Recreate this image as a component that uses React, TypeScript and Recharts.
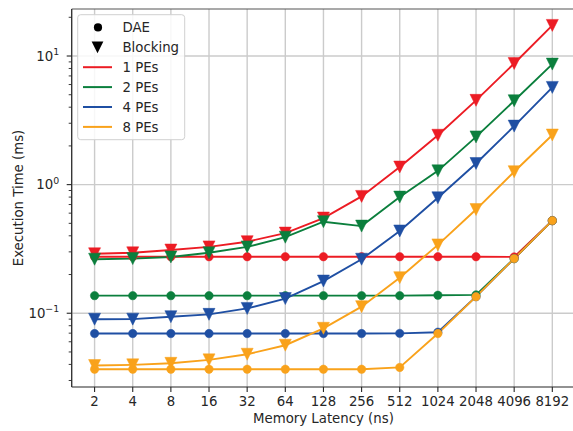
import React from 'react';
import { LineChart, Line, XAxis, YAxis, CartesianGrid, ReferenceLine } from 'recharts';

// ---------- data ----------
const latencies = [2, 4, 8, 16, 32, 64, 128, 256, 512, 1024, 2048, 4096, 8192];

const dae1 = [0.275, 0.275, 0.275, 0.275, 0.275, 0.275, 0.275, 0.275, 0.275, 0.275, 0.275, 0.274, 0.525];
const blk1 = [0.29, 0.295, 0.31, 0.328, 0.36, 0.42, 0.55, 0.81, 1.37, 2.42, 4.52, 8.75, 17.3];

const dae2 = [0.137, 0.137, 0.137, 0.137, 0.137, 0.137, 0.137, 0.137, 0.137, 0.138, 0.139, 0.266, 0.525];
const blk2 = [0.263, 0.266, 0.274, 0.295, 0.328, 0.39, 0.515, 0.476, 0.8, 1.28, 2.35, 4.49, 8.65];

const dae4 = [0.0695, 0.0695, 0.0695, 0.0695, 0.0695, 0.0695, 0.0695, 0.0695, 0.0697, 0.0712, 0.1345, 0.266, 0.525];
const blk4 = [0.0898, 0.09, 0.094, 0.098, 0.109, 0.13, 0.178, 0.263, 0.436, 0.79, 1.46, 2.85, 5.7];

const dae8 = [0.0367, 0.0367, 0.0367, 0.0367, 0.0367, 0.0367, 0.0367, 0.0367, 0.0379, 0.0695, 0.1345, 0.266, 0.525];
const blk8 = [0.0392, 0.0397, 0.0408, 0.0434, 0.048, 0.0564, 0.0764, 0.1125, 0.189, 0.34, 0.64, 1.26, 2.43];

const peLabels = ['1 PEs', '2 PEs', '4 PEs', '8 PEs'];
const markerLabels = ['DAE', 'Blocking'];

const majorTicks = [0.1, 1, 10];
const yTicks = [0.03, 0.04, 0.05, 0.06, 0.07, 0.08, 0.09, 0.1, 0.2, 0.3, 0.4, 0.5, 0.6, 0.7, 0.8, 0.9, 1, 2, 3, 4, 5, 6, 7, 8, 9, 10, 20];
const xTicks = latencies.map((l) => Math.log2(l));

// ---------- style ----------
const Y_MIN = 0.0267;
const Y_MAX = 23.2;
const FONT = '"DejaVu Sans", sans-serif';
const FS = 13.3;
const INK = '#262626';
const GRID = '#cbcbcb';
const COLORS = ['#ec1c24', '#0b7f3d', '#1f4fa3', '#f9a21b'];

const rows = latencies.map((lat, i) => ({
  lx: Math.log2(lat),
  dae1: dae1[i], blk1: blk1[i],
  dae2: dae2[i], blk2: blk2[i],
  dae4: dae4[i], blk4: blk4[i],
  dae8: dae8[i], blk8: blk8[i],
}));

const triPath = (cx: number, cy: number, h: number) =>
  `M${cx - h},${cy - h}L${cx + h},${cy - h}L${cx},${cy + h}Z`;

const circleDot = (color: string) => (p: any) => (
  <circle key={`c-${p.index}`} cx={p.cx} cy={p.cy} r={4.2} fill={color} stroke={color} strokeWidth={0.5} />
);
const triDot = (color: string) => (p: any) => (
  <path key={`t-${p.index}`} d={triPath(p.cx, p.cy, 6)} fill={color} stroke={color} strokeWidth={0.5} />
);

const YTick = (props: any) => {
  const { x, y, payload } = props;
  const v = payload.value;
  const axisX = x + 8;
  const major = majorTicks.some((m) => Math.abs(m - v) < 1e-9);
  const exp = Math.round(Math.log10(v));
  const expStr = exp < 0 ? `\u2212${-exp}` : `${exp}`;
  return (
    <g>
      <line x1={axisX - (major ? 5 : 3)} x2={axisX} y1={y} y2={y} stroke={INK} strokeWidth={major ? 1.1 : 0.9} />
      {major && (
        <text x={axisX - 12.5} y={y} dy="0.36em" textAnchor="end" fontSize={FS} fill={INK} fontFamily={FONT}>
          10
          <tspan dy={-5.6} fontSize={9.4}>{expStr}</tspan>
        </text>
      )}
    </g>
  );
};

const seriesDefs = [
  { dae: 'dae1', blk: 'blk1', color: COLORS[0] },
  { dae: 'dae2', blk: 'blk2', color: COLORS[1] },
  { dae: 'dae4', blk: 'blk4', color: COLORS[2] },
  { dae: 'dae8', blk: 'blk8', color: COLORS[3] },
];

const LegendBox = () => {
  const rowY = [27.4, 47.3, 67.2, 87.1, 107.0, 126.9];
  return (
    <svg width={573} height={431} style={{ position: 'absolute', left: 0, top: 0, pointerEvents: 'none' }}>
      <rect x={77.7} y={14.7} width={107} height={125} rx={3} ry={3} fill="rgba(255,255,255,0.85)" stroke="#d0d0d0" strokeWidth={1} />
      <circle cx={98} cy={rowY[0]} r={4.1} fill="#000" />
      <path d={triPath(97.5, rowY[1], 5.9)} fill="#000" />
      {COLORS.map((c, i) => (
        <line key={c} x1={83} x2={112} y1={rowY[i + 2]} y2={rowY[i + 2]} stroke={c} strokeWidth={2} />
      ))}
      {[...markerLabels, ...peLabels].map((t, i) => (
        <text key={t} x={122.5} y={rowY[i]} dy="0.36em" fontSize={FS} fill={INK} fontFamily={FONT}>
          {t}
        </text>
      ))}
    </svg>
  );
};

export default function App() {
  const chartW = 600;
  return (
    <div style={{ position: 'absolute', left: 0, top: 0, width: 573, height: 431, overflow: 'hidden', background: '#fff' }}>
      <LineChart
        width={chartW}
        height={431}
        data={rows}
        margin={{ top: 9, right: chartW - 575.2, left: 0, bottom: 0 }}
      >
        <CartesianGrid stroke={GRID} strokeWidth={1.4} horizontalValues={majorTicks} vertical={true} horizontal={true} />
        <XAxis
          dataKey="lx"
          type="number"
          domain={[0.4, 13.6]}
          ticks={xTicks}
          allowDataOverflow
          tickFormatter={(v: number) => String(Math.round(Math.pow(2, v)))}
          height={44}
          tickSize={5}
          tickMargin={4.5}
          stroke={INK}
          axisLine={{ stroke: INK, strokeWidth: 1.2 }}
          tickLine={{ stroke: INK, strokeWidth: 1.1 }}
          tick={{ fontSize: FS, fill: INK, fontFamily: FONT }}
          label={{ value: 'Memory Latency (ns)', position: 'insideBottom', offset: 8, fontSize: FS, fill: INK, fontFamily: FONT }}
        />
        <YAxis
          type="number"
          scale="log"
          domain={[Y_MIN, Y_MAX]}
          allowDataOverflow
          ticks={yTicks}
          interval={0}
          width={71.7}
          tickSize={6}
          tickMargin={2}
          tickLine={false}
          axisLine={{ stroke: INK, strokeWidth: 1.2 }}
          tick={<YTick />}
          label={{
            value: 'Execution Time (ms)',
            angle: -90,
            position: 'insideLeft',
            offset: 18,
            fontSize: FS,
            fill: INK,
            fontFamily: FONT,
            style: { textAnchor: 'middle' },
          }}
        />
        <ReferenceLine y={Y_MAX} stroke="#555" strokeWidth={1.2} ifOverflow="extendDomain" />
        {seriesDefs.flatMap((s) => [
          <Line
            key={s.dae}
            dataKey={s.dae}
            type="linear"
            stroke={s.color}
            strokeWidth={1.9}
            dot={circleDot(s.color)}
            activeDot={false}
            isAnimationActive={false}
          />,
          <Line
            key={s.blk}
            dataKey={s.blk}
            type="linear"
            stroke={s.color}
            strokeWidth={1.9}
            dot={triDot(s.color)}
            activeDot={false}
            isAnimationActive={false}
          />,
        ])}
      </LineChart>
      <LegendBox />
    </div>
  );
}
